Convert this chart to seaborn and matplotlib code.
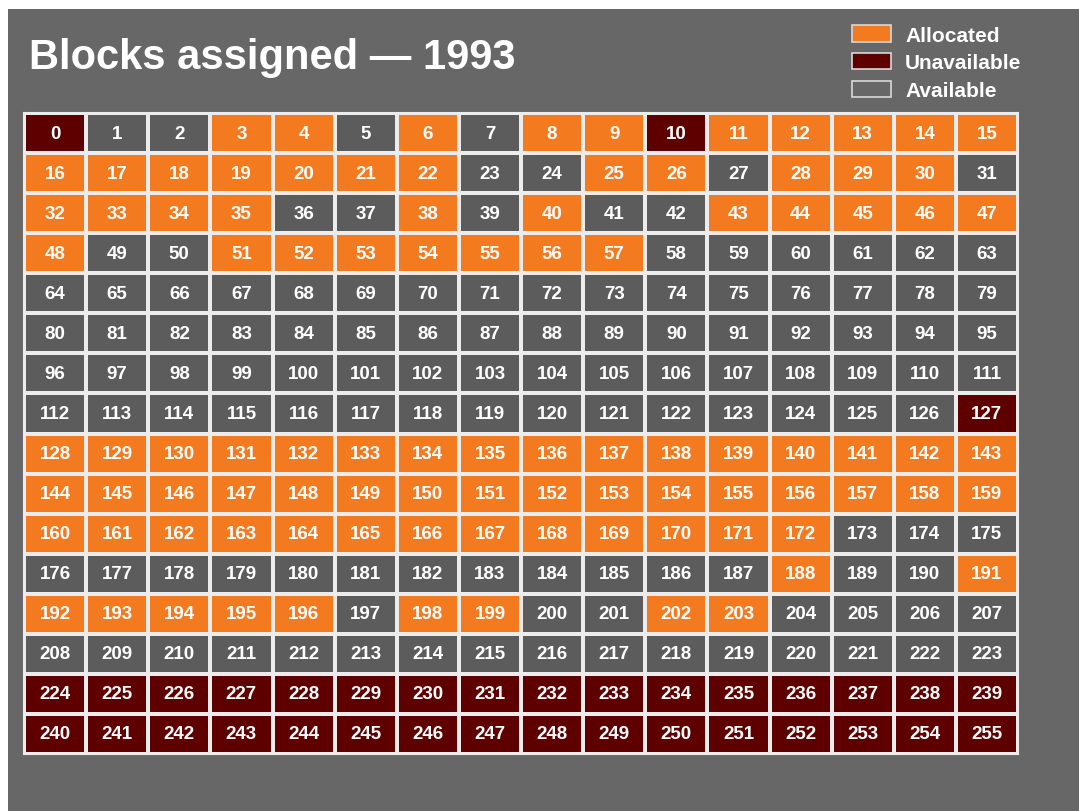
import numpy as np
import pandas as pd
import matplotlib
matplotlib.use("Agg")
import matplotlib.pyplot as plt
from matplotlib.colors import ListedColormap
from matplotlib.patches import Patch, Rectangle
import seaborn as sns

# Status of each /8 block, one string per row of 16 blocks
# A = Allocated, U = Unavailable, G = Available
row_status = [
    "UGGAAGAGAAUAAAAA",
    "AAAAAAAGGAAGAAAG",
    "AAAAGGAGAGGAAAAA",
    "AGGAAAAAAAGGGGGG",
    "GGGGGGGGGGGGGGGG",
    "GGGGGGGGGGGGGGGG",
    "GGGGGGGGGGGGGGGG",
    "GGGGGGGGGGGGGGGU",
    "AAAAAAAAAAAAAAAA",
    "AAAAAAAAAAAAAAAA",
    "AAAAAAAAAAAAAGGG",
    "GGGGGGGGGGGGAGGA",
    "AAAAAGAAGGAAGGGG",
    "GGGGGGGGGGGGGGGG",
    "UUUUUUUUUUUUUUUU",
    "UUUUUUUUUUUUUUUU",
]
block_numbers = list(range(256))
legend_labels = ["Allocated", "Unavailable", "Available"]
title_text = "Blocks assigned \u2014 1993"

ORANGE = "#f47a20"
DARK = "#5e0000"
CELL_GRAY = "#5c5c5c"
BG_GRAY = "#676767"

code_map = {"G": 0, "A": 1, "U": 2}
codes = np.array([[code_map[c] for c in row] for row in row_status])
numbers = np.array(block_numbers).reshape(16, 16)

status_df = pd.DataFrame(codes)
label_df = pd.DataFrame(numbers)

W, H = 1079, 812
fig = plt.figure(figsize=(W / 100, H / 100), dpi=100, facecolor="white")
fig.patches.append(Rectangle((8 / W, 0), 1 - 8 / W, 1 - 10 / H,
                             transform=fig.transFigure, facecolor=BG_GRAY,
                             edgecolor="none", zorder=-10))

ax = fig.add_axes([24 / W, 1 - 755 / H, (1018 - 24) / W, (755 - 114) / H])
ax.set_zorder(5)
sns.heatmap(status_df, ax=ax, cmap=ListedColormap([CELL_GRAY, ORANGE, DARK]),
            vmin=-0.5, vmax=2.5, cbar=False, annot=label_df, fmt="d",
            annot_kws={"color": "white", "fontsize": 13.5, "fontweight": "bold",
                       "family": "Liberation Sans"},
            linewidths=1.6, linecolor="#ececec", square=False,
            xticklabels=False, yticklabels=False)
ax.set_xlabel("")
ax.set_ylabel("")
for s in ax.spines.values():
    s.set_visible(True)
    s.set_color("#ececec")
    s.set_linewidth(1.5)

fig.text(29 / W, 1 - 58 / H, title_text, color="white", fontsize=30,
         fontweight="bold", family="Liberation Sans", va="center", ha="left")

handles = [Patch(facecolor=ORANGE, edgecolor="#d8d8d8", linewidth=1.2),
           Patch(facecolor=DARK, edgecolor="#d8d8d8", linewidth=1.2),
           Patch(facecolor=BG_GRAY, edgecolor="#d8d8d8", linewidth=1.2)]
leg = fig.legend(handles, legend_labels, loc="upper left",
                 bbox_to_anchor=(852 / W, 1 - 26 / H), frameon=False,
                 borderpad=0, borderaxespad=0, handlelength=1.85,
                 handleheight=0.85, handletextpad=0.7, labelspacing=0.4,
                 prop={"family": "Liberation Sans", "weight": "bold", "size": 15})
for t in leg.get_texts():
    t.set_color("white")

fig.savefig("out.png", dpi=100, facecolor=fig.get_facecolor())
